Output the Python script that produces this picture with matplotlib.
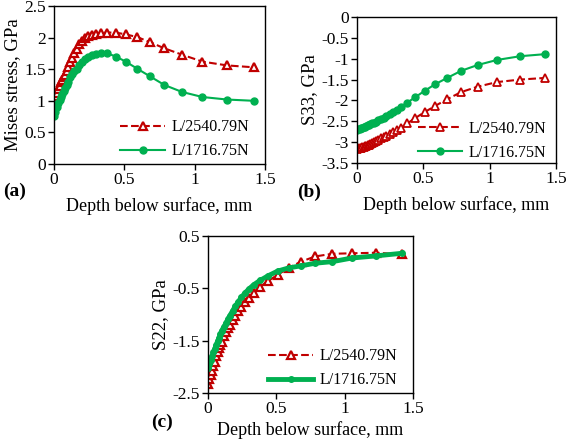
import matplotlib
matplotlib.use("Agg")
import matplotlib.pyplot as plt

plt.rcParams['font.family'] = 'Liberation Serif'

# depth below surface, mm (same grid for both loads)
depth = [0.0, 0.01, 0.02, 0.03, 0.04, 0.05, 0.06, 0.07, 0.08, 0.09, 0.10, 0.115,
         0.13, 0.145, 0.16, 0.18, 0.20, 0.22, 0.245, 0.27, 0.30, 0.335, 0.38, 0.44,
         0.51, 0.59, 0.68, 0.785, 0.91, 1.055, 1.23, 1.42]

labels = ['L/2540.79N', 'L/1716.75N']

# (a) Mises stress, GPa
mises_hi = [1.03, 1.08, 1.13, 1.19, 1.24, 1.29, 1.33, 1.37, 1.41, 1.47, 1.53, 1.61,
            1.68, 1.76, 1.82, 1.90, 1.95, 1.99, 2.02, 2.04, 2.06, 2.07, 2.08, 2.08,
            2.05, 2.01, 1.93, 1.83, 1.73, 1.62, 1.56, 1.53]
mises_lo = [0.76, 0.83, 0.90, 0.96, 1.01, 1.06, 1.11, 1.16, 1.21, 1.25, 1.30, 1.37,
            1.42, 1.47, 1.51, 1.57, 1.62, 1.66, 1.70, 1.72, 1.74, 1.75, 1.75, 1.70,
            1.62, 1.51, 1.39, 1.25, 1.14, 1.06, 1.02, 1.00]

# (b) S33, GPa
s33_hi = [-3.16, -3.15, -3.14, -3.13, -3.12, -3.11, -3.10, -3.09, -3.07, -3.06, -3.05, -3.03,
          -3.00, -2.97, -2.94, -2.91, -2.88, -2.85, -2.81, -2.76, -2.71, -2.65, -2.55, -2.42,
          -2.28, -2.13, -1.97, -1.80, -1.67, -1.56, -1.50, -1.46]
s33_lo = [-2.70, -2.69, -2.68, -2.67, -2.66, -2.64, -2.63, -2.62, -2.60, -2.59, -2.57, -2.55,
          -2.53, -2.51, -2.48, -2.45, -2.41, -2.37, -2.33, -2.28, -2.22, -2.15, -2.05, -1.92,
          -1.77, -1.61, -1.46, -1.29, -1.15, -1.03, -0.94, -0.89]

# (c) S22, GPa
s22_hi = [-2.32, -2.24, -2.16, -2.08, -1.99, -1.90, -1.80, -1.71, -1.64, -1.58, -1.52, -1.42,
          -1.34, -1.26, -1.20, -1.11, -1.02, -0.94, -0.85, -0.77, -0.68, -0.58, -0.47, -0.36,
          -0.24, -0.11, 0.01, 0.11, 0.16, 0.17, 0.18, 0.15]
s22_lo = [-2.03, -1.95, -1.87, -1.80, -1.72, -1.65, -1.58, -1.51, -1.45, -1.38, -1.31, -1.24,
          -1.17, -1.09, -1.02, -0.93, -0.84, -0.76, -0.67, -0.59, -0.51, -0.43, -0.35, -0.26,
          -0.17, -0.11, -0.07, -0.02, 0.01, 0.08, 0.12, 0.17]

red = '#C00000'
green = '#00B050'

fig = plt.figure(figsize=(5.67, 4.42), dpi=100)
W, H = 567.0, 442.0

def add_ax(x0, x1, y0, y1):
    return fig.add_axes([x0 / W, 1 - y1 / H, (x1 - x0) / W, (y1 - y0) / H])

ax_a = add_ax(54, 265, 6, 164)
ax_b = add_ax(357, 556, 17, 163)
ax_c = add_ax(208, 413, 236, 393)

def style(ax, ylim, yticks, ylabel, pad=6):
    ax.set_xlim(0, 1.5)
    ax.set_xticks([0, 0.5, 1, 1.5])
    ax.set_xticklabels(['0', '0.5', '1', '1.5'])
    ax.set_ylim(*ylim)
    ax.set_yticks(yticks)
    ax.set_yticklabels(['%g' % t for t in yticks])
    ax.tick_params(direction='out', length=4, width=1, labelsize=12.5, pad=2)
    for s in ax.spines.values():
        s.set_linewidth(1.0)
    ax.set_xlabel('Depth below surface, mm', fontsize=13, labelpad=pad)
    ax.set_ylabel(ylabel, fontsize=13.5, labelpad=2)

def add_legend(ax, anchor):
    ax.legend(loc='lower right', frameon=False, fontsize=11.5, handlelength=2.8,
              handletextpad=0.4, labelspacing=0.5, borderaxespad=0.2,
              bbox_to_anchor=anchor)

# (a)
ax_a.plot(depth, mises_hi, '--', color=red, lw=1.5, marker='^', ms=6,
          mfc='white', mec=red, mew=1.6, label=labels[0])
ax_a.plot(depth, mises_lo, '-', color=green, lw=1.5, marker='o', ms=5,
          mfc=green, mec=green, label=labels[1])
style(ax_a, (0, 2.5), [0, 0.5, 1, 1.5, 2, 2.5], 'Mises stress, GPa')
add_legend(ax_a, (0.97, -0.03))

# (b)
ax_b.plot(depth, s33_hi, '--', color=red, lw=1.5, marker='^', ms=6,
          mfc='white', mec=red, mew=1.3, label=labels[0])
ax_b.plot(depth, s33_lo, '-', color=green, lw=1.5, marker='o', ms=5,
          mfc=green, mec=green, label=labels[1])
style(ax_b, (-3.5, 0), [-3.5, -3, -2.5, -2, -1.5, -1, -0.5, 0], 'S33, GPa')
add_legend(ax_b, (1.0, -0.05))

# (c)
ax_c.plot(depth, s22_hi, '--', color=red, lw=1.5, marker='^', ms=5.5,
          mfc='white', mec=red, mew=1.6, label=labels[0])
ax_c.plot(depth, s22_lo, '-', color=green, lw=3.5, marker='o', ms=4,
          mfc=green, mec=green, label=labels[1])
style(ax_c, (-2.5, 0.5), [-2.5, -1.5, -0.5, 0.5], 'S22, GPa', pad=3)
add_legend(ax_c, (0.97, -0.03))

# panel letters
fig.text(3 / W, 1 - 191 / H, '(a)', fontsize=14, fontweight='bold', va='center')
fig.text(297 / W, 1 - 192 / H, '(b)', fontsize=14, fontweight='bold', va='center')
fig.text(151 / W, 1 - 422 / H, '(c)', fontsize=14, fontweight='bold', va='center')

fig.savefig('out.png', dpi=100)
